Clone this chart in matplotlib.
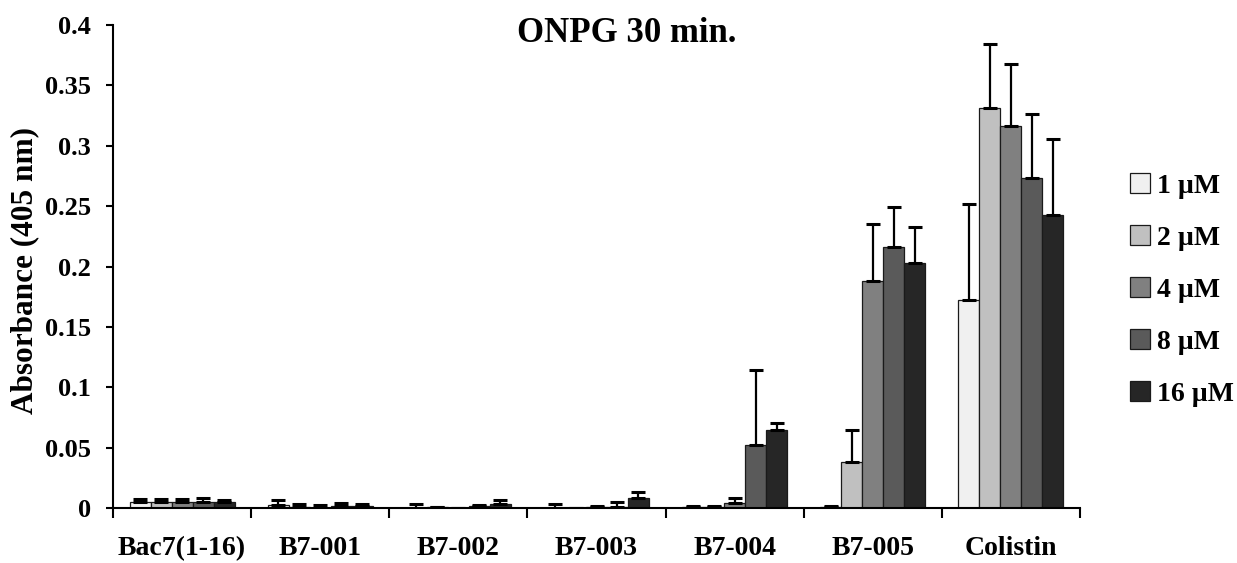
import matplotlib
matplotlib.use("Agg")
import matplotlib.pyplot as plt
import numpy as np
from matplotlib.patches import Patch

categories = ["Bac7(1-16)", "B7-001", "B7-002", "B7-003", "B7-004", "B7-005", "Colistin"]
series_labels = ["1 µM", "2 µM", "4 µM", "8 µM", "16 µM"]
colors = ["#f0f0f0", "#c0c0c0", "#808080", "#5a5a5a", "#262626"]

# values per concentration (rows) across categories (columns)
values = [
    [0.0052, 0.0022, 0.0002, 0.0002, 0.0005, 0.0005, 0.172],   # 1 uM
    [0.0052, 0.0006, 0.0005, 0.0002, 0.0008, 0.038, 0.331],    # 2 uM
    [0.0052, 0.0003, 0.0003, 0.0006, 0.0040, 0.188, 0.316],    # 4 uM
    [0.0052, 0.0020, 0.0015, 0.0012, 0.052, 0.216, 0.273],     # 8 uM
    [0.0047, 0.0015, 0.0033, 0.0080, 0.065, 0.203, 0.243],     # 16 uM
]
errors = [
    [0.0025, 0.0042, 0.0034, 0.0034, 0.0015, 0.0012, 0.080],
    [0.0025, 0.0030, 0.0000, 0.0000, 0.0012, 0.027, 0.053],
    [0.0025, 0.0025, 0.0000, 0.0014, 0.0045, 0.047, 0.052],
    [0.0027, 0.0022, 0.0008, 0.0038, 0.062, 0.033, 0.053],
    [0.0022, 0.0020, 0.0031, 0.0053, 0.005, 0.030, 0.063],
]

plt.rcParams['font.family'] = ['Liberation Serif', 'DejaVu Serif']
plt.rcParams['font.weight'] = 'bold'

W, H = 1237, 563
fig = plt.figure(figsize=(W / 100, H / 100), dpi=100)
ax = fig.add_axes([113 / W, 55 / H, (1080 - 113) / W, (508 - 25) / H])

n = len(series_labels)
bw = 0.152
x = np.arange(len(categories)) + 0.5
for i in range(n):
    pos = x + (i - (n - 1) / 2) * bw
    ax.bar(pos, values[i], width=bw, color=colors[i], edgecolor="#1a1a1a",
           linewidth=0.9, zorder=2)
    ax.errorbar(pos, values[i], yerr=[np.zeros(len(categories)), errors[i]],
                fmt="none", ecolor="black", elinewidth=1.6, capsize=5,
                capthick=2.2, zorder=3)

ax.set_xlim(0, len(categories))
ax.set_ylim(0, 0.4)
ax.set_xticks(np.arange(len(categories) + 1))
ax.set_xticklabels([])
ax.set_xticks(x, minor=True)
ax.set_xticklabels(categories, minor=True, fontsize=20, fontweight='bold')
ax.tick_params(axis='x', which='minor', length=0, pad=20)
ax.tick_params(axis='x', which='major', length=7, width=1.5, direction='out')
ax.set_yticks([0, 0.05, 0.1, 0.15, 0.2, 0.25, 0.3, 0.35, 0.4])
ax.set_yticklabels(["0", "0.05", "0.1", "0.15", "0.2", "0.25", "0.3", "0.35", "0.4"],
                   fontsize=19, fontweight='bold')
ax.tick_params(axis='y', length=5, width=1.5, direction='out', pad=11)

for s in ["top", "right"]:
    ax.spines[s].set_visible(False)
for s in ["left", "bottom"]:
    ax.spines[s].set_linewidth(1.5)

fig.text(25 / W, 1 - 270 / H, "Absorbance (405 nm)", rotation=90, ha='center',
         va='center', fontsize=22.5, fontweight='bold')
fig.text(627 / W, 1 - 42 / H, "ONPG 30 min.", ha='center', va='baseline',
         fontsize=25, fontweight='bold')

handles = [Patch(facecolor=c, edgecolor="#1a1a1a", linewidth=0.9) for c in colors]
leg = fig.legend(handles, series_labels, loc='center left',
                 bbox_to_anchor=(1130 / W, 1 - 290 / H), frameon=False,
                 prop={'family': ['Liberation Serif'], 'weight': 'bold', 'size': 20},
                 handlelength=0.72, handleheight=0.72, labelspacing=0.95,
                 handletextpad=0.25, borderaxespad=0, borderpad=0)

fig.savefig("out.png", dpi=100)
